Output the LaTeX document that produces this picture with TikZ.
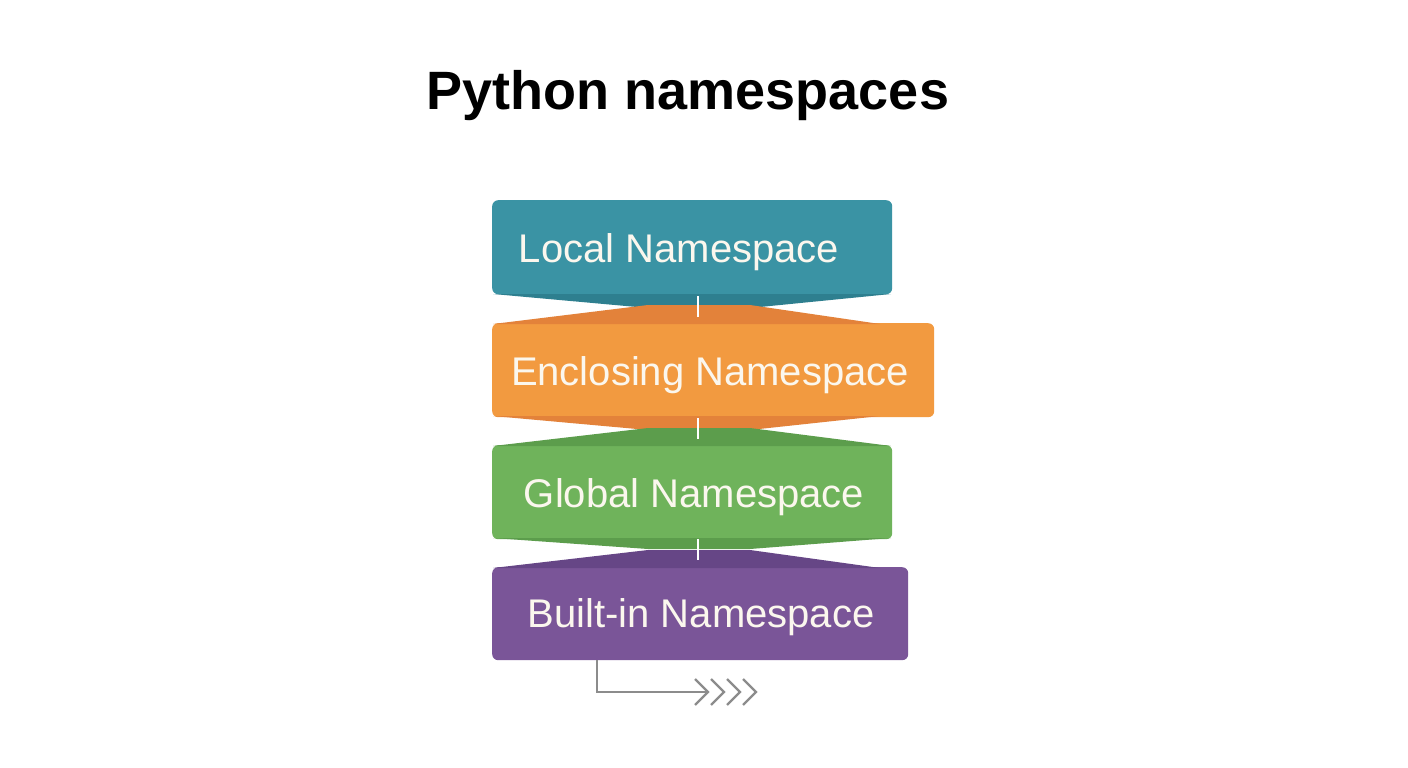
\documentclass[tikz,border=0pt]{standalone}
\usepackage{fontspec}
\setmainfont{Liberation Sans}
\usetikzlibrary{calc}
\definecolor{cteal}{HTML}{3A93A4}
\definecolor{ctealD}{HTML}{2E7F8F}
\definecolor{corange}{HTML}{F29A40}
\definecolor{corangeD}{HTML}{E3823A}
\definecolor{cgreen}{HTML}{6FB35B}
\definecolor{cgreenD}{HTML}{5C9D4C}
\definecolor{cpurple}{HTML}{7A5598}
\definecolor{cpurpleD}{HTML}{664686}
\definecolor{cgray}{HTML}{8C8C8C}
\definecolor{ctext}{HTML}{FBF7EE}
\begin{document}
\begin{tikzpicture}[x=1pt,y=-1pt,
  nsbox/.style={draw=none, rounded corners=6pt, minimum height=94pt, anchor=north west, inner sep=0pt},
  nstext/.style={text=ctext, font=\fontsize{40}{48}\selectfont, inner sep=0pt, anchor=base},
  sep/.style={draw=white, line width=2.5pt},
  conn/.style={draw=cgray, line width=2.4pt},
  chev/.style={draw=cgray, line width=2.4pt, line join=miter}]
\fill[white] (0,0) rectangle (1408,768);
\useasboundingbox (0,0) rectangle (1408,768);

\node[font=\bfseries\fontsize{54}{64}\selectfont, inner sep=0pt, anchor=base] (title) at (688,110) {Python namespaces};

\node[nsbox, fill=cteal, minimum width=400pt] (local) at (492,200) {};
\node[nsbox, fill=corange, minimum width=442pt] (encl) at (492,323) {};
\node[nsbox, fill=cgreen, minimum width=400pt] (glob) at (492,445) {};
\node[nsbox, fill=cpurple, minimum width=416pt, minimum height=93pt] (built) at (492,567) {};

% tapered joints
\fill[ctealD] (493,294) -- (648,308) -- (750,308) -- (891,294) -- cycle;
\fill[corangeD] (493,324) -- (648,305) -- (750,305) -- (880,324) -- cycle;
\fill[corangeD] (493,416) -- (648,430) -- (750,430) -- (880,416) -- cycle;
\fill[cgreenD] (493,446) -- (648,428) -- (750,428) -- (891,446) -- cycle;
\fill[cgreenD] (493,538) -- (648,549) -- (750,549) -- (891,538) -- cycle;
\fill[cpurpleD] (493,568) -- (648,550) -- (750,550) -- (880,568) -- cycle;

\node[nstext] (localT) at (679,262) {Local Namespace};
\node[nstext] (enclT) at (710,385) {Enclosing Namespace};
\node[nstext] (globT) at (694,507) {Global Namespace};
\node[nstext] (builtT) at (701,627) {Built-in Namespace};

\draw[sep] (698,296) -- (698,317);
\draw[sep] (698,418) -- (698,439);
\draw[sep] (698,539) -- (698,560);

\coordinate (cend) at (708,692);
\draw[conn] (built.south west) ++(105,0) |- (cend);
\foreach \dx in {0,16,32,48} {
  \draw[chev] ($(cend)+(\dx-13,-13)$) -- ($(cend)+(\dx,0)$) -- ($(cend)+(\dx-13,13)$);
}
\end{tikzpicture}
\end{document}
